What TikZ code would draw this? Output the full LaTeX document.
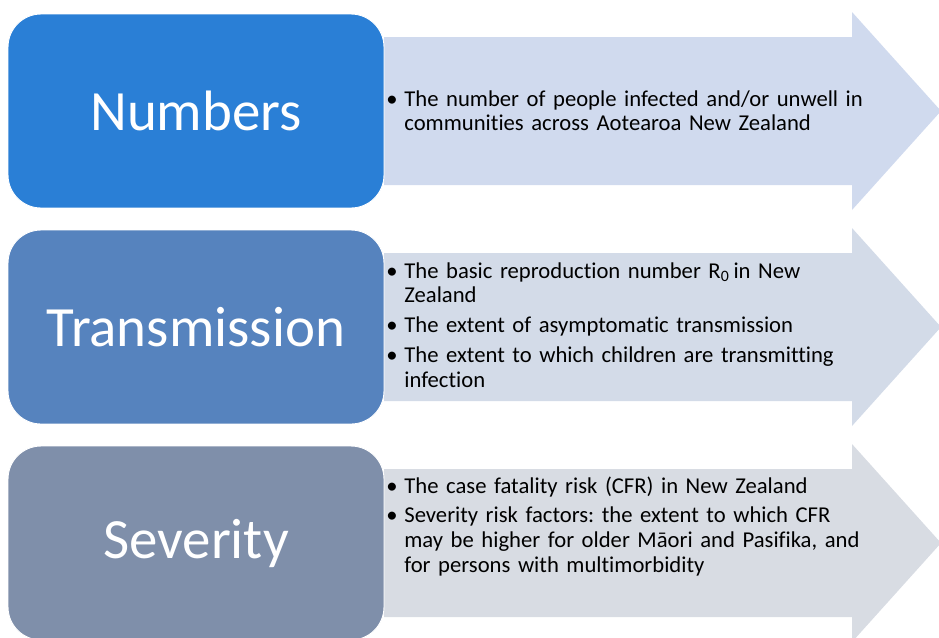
\documentclass[tikz,border=0pt]{standalone}
\usepackage{fontspec}
\setmainfont{Carlito}[Ligatures=NoCommon]
\frenchspacing

\definecolor{numblue}{RGB}{42,127,214}
\definecolor{transblue}{RGB}{86,131,190}
\definecolor{sevgrey}{RGB}{127,143,170}
\definecolor{arrowA}{RGB}{208,218,238}
\definecolor{arrowB}{RGB}{211,219,232}
\definecolor{arrowC}{RGB}{216,220,227}

\newlength{\px}
\setlength{\px}{0.02cm}
% bullet line with hanging indent
\newcommand{\bitem}[1]{\hangindent=18\px\hangafter=1\noindent\makebox[18\px][l]{\textbullet}#1\par}

\tikzset{
  headbox/.style={rounded corners=0.66cm, draw=white, line width=0.5pt,
    minimum width=7.52cm, minimum height=3.88cm, text=white,
    font=\fontsize{32.4}{38}\selectfont},
  listtext/.style={text width=10.4cm, align=left, inner sep=0pt, anchor=base west,
    font=\fontsize{12.9}{14.2}\selectfont}
}

\begin{document}
\begin{tikzpicture}[x=0.02cm, y=-0.02cm]
\useasboundingbox (0,0) rectangle (939,637);

% -----------------------------
% Arrows behind the boxes
% -----------------------------
\foreach \yc/\col in {111/arrowA, 327/arrowB, 543/arrowC} {
    \fill[\col] (384,\yc-74) -- (852,\yc-74) -- (852,\yc-99) -- (941,\yc)
        -- (852,\yc+99) -- (852,\yc+74) -- (384,\yc+74) -- cycle;
}

% -----------------------------
% Rounded boxes
% -----------------------------
\node[headbox, fill=numblue] (numbers) at (196,111) {Numbers};
\node[headbox, fill=transblue] (transmission) at (196,327) {Transmission};
\node[headbox, fill=sevgrey] (severity) at (196,543) {Severity};

% -----------------------------
% Bullet lists
% -----------------------------
\node[listtext] (numbersList) at (386,106) {%
  \bitem{The number of people infected and/or unwell in\newline communities across Aotearoa New Zealand}};

\node[listtext] (transList) at (386,278) {\setlength{\parskip}{2.85pt}%
  \bitem{The basic reproduction number R\textsubscript{0}\,in New\newline Zealand}
  \bitem{The extent of asymptomatic transmission}
  \bitem{The extent to which children are transmitting\newline infection}};

\node[listtext] (sevList) at (386,493) {\setlength{\parskip}{2.85pt}%
  \bitem{The case fatality risk (CFR) in New Zealand}
  \bitem{Severity risk factors: the extent to which CFR\newline may be higher for older Māori and Pasifika, and\newline for persons with multimorbidity}};

\end{tikzpicture}
\end{document}
